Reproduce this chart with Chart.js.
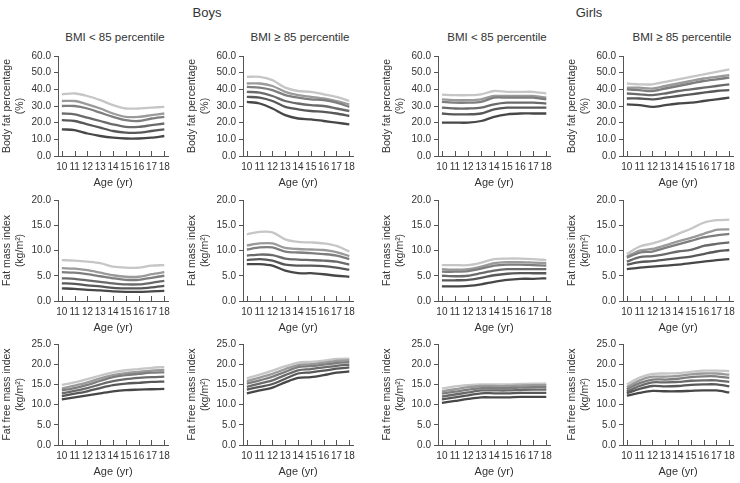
<!DOCTYPE html>
<html>
<head>
<meta charset="utf-8">
<script src="https://cdn.jsdelivr.net/npm/chart.js@4.4.1/dist/chart.umd.min.js"></script>
<style>
body { margin:0; background:#fff; width:740px; height:483px; position:relative; overflow:hidden;
  font-family:'Liberation Sans',Arial,sans-serif; color:#333; }
.t { position:absolute; transform:translateX(-50%); white-space:nowrap; }
.grp { font-size:13px; top:5px; }
.sub { font-size:11.5px; top:31px; }
canvas { position:absolute; }
</style>
</head>
<body>
<div class="t grp" style="left:207px">Boys</div>
<div class="t grp" style="left:589px">Girls</div>
<div class="t sub" style="left:115px">BMI &lt; 85 percentile</div>
<div class="t sub" style="left:300px">BMI ≥ 85 percentile</div>
<div class="t sub" style="left:497px">BMI &lt; 85 percentile</div>
<div class="t sub" style="left:682px">BMI ≥ 85 percentile</div>
<script>
// Ages (x axis)
const ages = [10, 11, 12, 13, 14, 15, 16, 17, 18];

// Percentile curves, lowest curve first
// Body fat percentage
const boysLowBF = [
  [16, 15.5, 13.5, 12, 11, 10.5, 10.5, 11, 12],
  [21.5, 21, 19, 17, 15, 14, 14, 15, 16],
  [25.5, 25, 23, 21, 19, 17.5, 17.5, 18.5, 19.5],
  [30, 30, 28.5, 26, 23.5, 21.5, 21, 22.5, 23.5],
  [33, 33, 31, 28.5, 25.5, 23.5, 23.5, 24.5, 25.5],
  [37, 37.5, 36, 33.5, 30.5, 28.5, 28.5, 29, 29.5]
];
const boysHighBF = [
  [32.5, 31.5, 28.5, 24.5, 22.5, 22, 21, 20, 19],
  [35.5, 35, 33, 29.5, 28, 27, 26.5, 25.5, 24],
  [38.5, 38, 36, 33, 31.5, 30.5, 30, 28.5, 27],
  [41.5, 41, 39.5, 36.5, 35, 34, 33.5, 32, 29.5],
  [43.5, 43.5, 42, 38.5, 36.5, 35.5, 34.5, 33, 31],
  [47.5, 47.5, 45.5, 41, 39, 38.5, 37, 35.5, 33]
];
const girlsLowBF = [
  [20, 20, 20, 21, 23.5, 25, 25.5, 25.5, 25.5],
  [25.5, 25, 25, 25.5, 28, 29, 29, 29, 29],
  [29, 28.5, 28.5, 29, 31, 32, 32, 32, 31.5],
  [32.5, 32, 32, 32.5, 35, 35, 35, 35, 34],
  [34, 33.5, 33.5, 34, 36, 36, 36, 36, 35],
  [36.8, 36.5, 36.5, 37, 39, 38.5, 38.5, 38.5, 37.5]
];
const girlsHighBF = [
  [31, 30.5, 29.5, 30.5, 31.5, 32, 33, 34, 35],
  [34.5, 34.5, 34, 35, 36, 37, 38, 39, 39.5],
  [37.5, 37, 36.5, 37.5, 39, 40, 41, 42, 43],
  [40, 39.5, 39, 40.5, 42, 43.5, 45, 46, 47],
  [41, 41, 40.5, 42, 43.5, 45, 46.5, 47.5, 48.5],
  [43.5, 43, 43, 44.5, 46, 47.5, 49, 50.5, 52]
];

// Fat mass index
const boysLowFMI = [
  [2.5, 2.4, 2.2, 2.1, 1.9, 1.8, 1.8, 1.9, 2.0],
  [3.5, 3.4, 3.1, 2.9, 2.6, 2.5, 2.5, 2.7, 3.0],
  [4.5, 4.4, 4.1, 3.8, 3.5, 3.3, 3.3, 3.6, 4.0],
  [5.7, 5.6, 5.3, 4.9, 4.5, 4.2, 4.2, 4.6, 5.0],
  [6.5, 6.4, 6.1, 5.6, 5.1, 4.8, 4.8, 5.3, 5.7],
  [8.1, 8.0, 7.8, 7.5, 6.8, 6.6, 6.6, 7.0, 7.1]
];
const boysHighFMI = [
  [7.3, 7.3, 7.0, 6.0, 5.5, 5.5, 5.3, 5.0, 4.8],
  [8.1, 8.3, 8.0, 7.2, 7.0, 7.0, 6.9, 6.6, 6.2],
  [9.0, 9.2, 9.1, 8.4, 8.2, 8.1, 8.0, 7.8, 7.2],
  [10.2, 10.6, 10.6, 9.8, 9.6, 9.5, 9.3, 9.0, 8.3],
  [11.0, 11.4, 11.4, 10.5, 10.3, 10.2, 10.1, 9.7, 8.9],
  [13.2, 13.7, 13.6, 12.2, 11.7, 11.6, 11.4, 10.9, 9.8]
];
const girlsLowFMI = [
  [2.9, 2.9, 3.0, 3.3, 3.8, 4.2, 4.4, 4.4, 4.5],
  [4.1, 4.1, 4.2, 4.6, 5.1, 5.4, 5.5, 5.5, 5.5],
  [5.0, 4.9, 5.0, 5.5, 6.0, 6.3, 6.3, 6.3, 6.3],
  [5.8, 5.8, 5.9, 6.4, 7.0, 7.2, 7.2, 7.1, 7.0],
  [6.3, 6.2, 6.3, 6.8, 7.5, 7.7, 7.7, 7.6, 7.5],
  [7.1, 7.1, 7.1, 7.6, 8.3, 8.4, 8.4, 8.3, 8.1]
];
const girlsHighFMI = [
  [6.3, 6.6, 6.8, 7.0, 7.2, 7.5, 7.8, 8.1, 8.3],
  [7.2, 7.7, 7.9, 8.2, 8.5, 8.8, 9.3, 9.8, 10.1],
  [7.8, 8.7, 8.9, 9.3, 9.8, 10.1, 10.9, 11.3, 11.6],
  [8.6, 9.6, 9.8, 10.5, 11.2, 11.9, 12.6, 13.0, 13.3],
  [8.8, 10.0, 10.3, 11.0, 11.8, 12.5, 13.3, 14.1, 14.2],
  [9.3, 10.8, 11.4, 12.2, 13.3, 14.3, 15.5, 16.0, 16.1]
];

// Fat free mass index
const boysLowFFMI = [
  [11.3, 11.8, 12.3, 12.8, 13.3, 13.6, 13.7, 13.8, 13.9],
  [12.1, 12.7, 13.3, 14.1, 14.8, 15.2, 15.4, 15.6, 15.7],
  [12.8, 13.4, 14.1, 15.0, 15.8, 16.3, 16.6, 16.8, 16.9],
  [13.5, 14.1, 14.9, 15.9, 16.8, 17.3, 17.6, 17.9, 18.0],
  [14.0, 14.7, 15.5, 16.5, 17.3, 17.8, 18.1, 18.4, 18.6],
  [14.9, 15.5, 16.3, 17.2, 18.0, 18.5, 18.8, 19.1, 19.3]
];
const boysHighFFMI = [
  [12.8, 13.5, 14.2, 15.5, 16.6, 16.8, 17.3, 17.9, 18.2],
  [13.7, 14.4, 15.1, 16.4, 17.7, 18.0, 18.4, 18.9, 19.2],
  [14.4, 15.2, 16.0, 17.3, 18.5, 18.8, 19.2, 19.6, 19.9],
  [15.2, 16.0, 16.9, 18.1, 19.3, 19.5, 19.9, 20.3, 20.5],
  [15.8, 16.7, 17.6, 18.8, 19.8, 20.0, 20.4, 20.8, 21.0],
  [16.5, 17.4, 18.4, 19.5, 20.4, 20.6, 20.9, 21.3, 21.4]
];
const girlsLowFFMI = [
  [10.4, 10.9, 11.4, 11.8, 11.8, 11.8, 11.9, 11.9, 11.9],
  [11.3, 11.8, 12.3, 12.8, 12.8, 12.8, 12.9, 12.9, 12.9],
  [12.0, 12.5, 13.0, 13.5, 13.5, 13.5, 13.6, 13.7, 13.7],
  [12.7, 13.2, 13.7, 14.1, 14.1, 14.1, 14.2, 14.3, 14.3],
  [13.3, 13.8, 14.3, 14.6, 14.6, 14.6, 14.7, 14.8, 14.8],
  [14.0, 14.5, 14.8, 15.0, 15.0, 15.0, 15.1, 15.2, 15.2]
];
const girlsHighFFMI = [
  [12.2, 12.9, 13.4, 13.3, 13.3, 13.4, 13.5, 13.5, 13.0],
  [12.8, 13.9, 14.6, 14.5, 14.6, 14.9, 15.0, 15.0, 14.5],
  [13.2, 14.6, 15.5, 15.5, 15.6, 15.9, 16.0, 16.0, 15.6],
  [13.8, 15.3, 16.2, 16.2, 16.4, 16.8, 17.0, 17.0, 16.6],
  [14.3, 16.0, 16.9, 16.9, 17.1, 17.5, 17.7, 17.7, 17.4],
  [15.0, 16.7, 17.6, 17.7, 17.8, 18.1, 18.4, 18.4, 18.3]
];

// darkest = lowest curve
const lineColors = ['#474747', '#585858', '#6a6a6a', '#7e7e7e', '#9a9a9a', '#c6c6c6'];

const rows = [
  { top: 56, h: 100, max: 60, step: 10, title: ['Body fat percentage', '(%)'],
    sets: [boysLowBF, boysHighBF, girlsLowBF, girlsHighBF] },
  { top: 200, h: 101, max: 20, step: 5, title: ['Fat mass index', '(kg/m²)'],
    sets: [boysLowFMI, boysHighFMI, girlsLowFMI, girlsHighFMI] },
  { top: 344, h: 101, max: 25, step: 5, title: ['Fat free mass index', '(kg/m²)'],
    sets: [boysLowFFMI, boysHighFFMI, girlsLowFFMI, girlsHighFFMI] }
];
const cols = [
  { axis: 58, w: 113 },
  { axis: 243, w: 113 },
  { axis: 438, w: 115 },
  { axis: 623, w: 113 }
];

const yW = 58, padTop = 11, padRight = 4, xH = 36;
const FONT = "'Liberation Sans',Arial,sans-serif";
const axisColor = '#555';
const textColor = '#333';

// small upward tick marks on the x axis
const upTicks = {
  id: 'upTicks',
  afterDraw(chart) {
    const xs = chart.scales.x, ctx = chart.ctx, yb = chart.chartArea.bottom;
    ctx.save();
    ctx.strokeStyle = axisColor;
    ctx.lineWidth = 1;
    ages.forEach(a => {
      const px = Math.round(xs.getPixelForValue(a)) + 0.5;
      ctx.beginPath();
      ctx.moveTo(px, yb);
      ctx.lineTo(px, yb - 5);
      ctx.stroke();
    });
    ctx.restore();
  }
};

rows.forEach(row => {
  cols.forEach((col, c) => {
    const cv = document.createElement('canvas');
    const width = yW + col.w + padRight;
    const height = padTop + row.h + xH;
    cv.width = width;
    cv.height = height;
    cv.style.left = (col.axis - yW) + 'px';
    cv.style.top = (row.top - padTop) + 'px';
    cv.style.width = width + 'px';
    cv.style.height = height + 'px';
    document.body.appendChild(cv);

    new Chart(cv, {
      type: 'line',
      data: {
        datasets: row.sets[c].map((vals, i) => ({
          data: ages.map((a, k) => ({ x: a, y: vals[k] })),
          borderColor: lineColors[i],
          borderWidth: 2.3,
          pointRadius: 0,
          tension: 0.3,
          fill: false
        }))
      },
      options: {
        responsive: false,
        animation: false,
        devicePixelRatio: 1,
        layout: { padding: { top: padTop, right: padRight, left: 0, bottom: 0 } },
        plugins: { legend: { display: false }, tooltip: { enabled: false } },
        scales: {
          x: {
            type: 'linear',
            min: 9.7,
            max: 18.3,
            afterBuildTicks: s => { s.ticks = ages.map(v => ({ value: v })); },
            afterFit: s => { s.height = xH; },
            grid: { display: false, drawTicks: false },
            border: { color: axisColor, width: 1 },
            ticks: { font: { family: FONT, size: 10 }, color: textColor, padding: 5,
              autoSkip: false, maxRotation: 0, callback: v => v },
            title: { display: true, text: 'Age (yr)', color: textColor,
              font: { family: FONT, size: 11, weight: 'normal' }, padding: { top: 0, bottom: 2 } }
          },
          y: {
            min: 0,
            max: row.max,
            afterFit: s => { s.width = yW; },
            grid: { drawOnChartArea: false, tickLength: 4, color: axisColor },
            border: { color: axisColor, width: 1 },
            ticks: { stepSize: row.step, font: { family: FONT, size: 10 }, color: textColor,
              padding: 3, callback: v => v.toFixed(1) },
            title: { display: true, text: row.title, color: textColor,
              font: { family: FONT, size: 10.5, weight: 'normal' }, padding: { top: 1, bottom: 0 } }
          }
        }
      },
      plugins: [upTicks]
    });
  });
});
</script>
</body>
</html>
